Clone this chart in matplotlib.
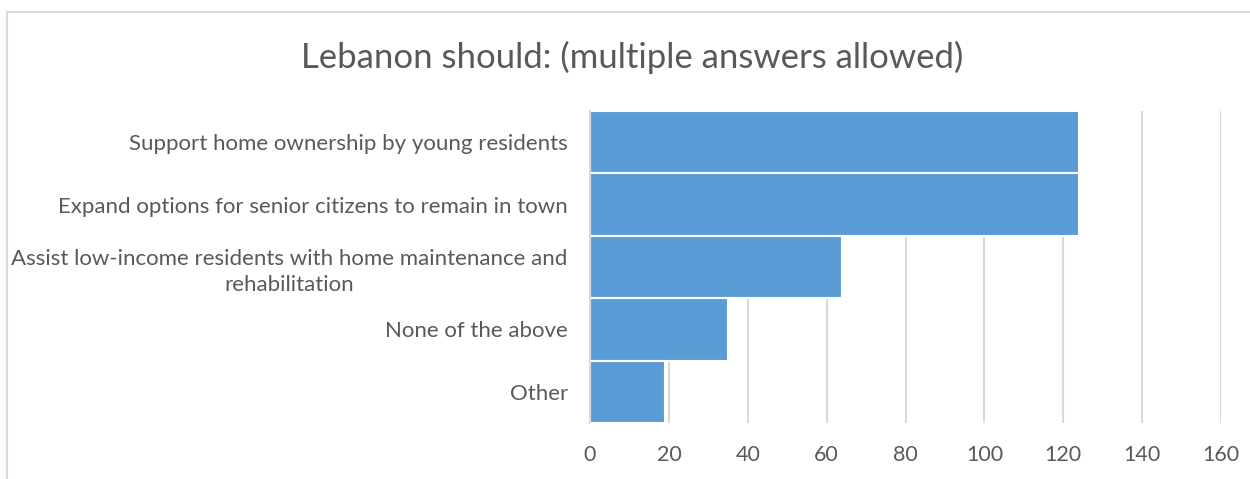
import matplotlib.pyplot as plt
from matplotlib.patches import Rectangle

categories = [
    'Support home ownership by young residents',
    'Expand options for senior citizens to remain in town',
    'Assist low-income residents with home maintenance and\nrehabilitation',
    'None of the above',
    'Other',
]
values = [124, 124, 64, 35, 19]
xticks = [0, 20, 40, 60, 80, 100, 120, 140, 160]

plt.rcParams['font.family'] = ['Lato', 'DejaVu Sans']
text_color = '#595959'
grid_color = '#D9D9D9'

fig = plt.figure(figsize=(12.5, 4.79), dpi=100)
fig.patches.append(Rectangle((7 / 1250, -0.1), 1.2, 1 - 12 / 479 + 0.1,
                             transform=fig.transFigure, fill=False,
                             edgecolor=grid_color, linewidth=1.5))

ax = fig.add_axes([590 / 1250, 1 - 423 / 479, (1221 - 590) / 1250, (423 - 111) / 479])

pos = list(range(len(categories)))
ax.barh(pos, values, height=1.0, color='#5B9BD5', edgecolor='white',
        linewidth=1.5, zorder=3)
ax.set_ylim(len(categories) - 0.5, -0.5)
ax.set_xlim(0, 160)
ax.set_xticks(xticks)
ax.set_yticks(pos)
ax.set_yticklabels(categories, multialignment='center', linespacing=1.4)

ax.grid(axis='x', color=grid_color, linewidth=1.5, zorder=0)
for s in ['top', 'right', 'bottom']:
    ax.spines[s].set_visible(False)
ax.spines['left'].set_color(grid_color)
ax.spines['left'].set_linewidth(1.5)
ax.spines['left'].set_zorder(4)
ax.tick_params(axis='x', length=0, colors=text_color, labelsize=15.5, pad=16)
ax.tick_params(axis='y', length=0, colors=text_color, labelsize=16, pad=16)

fig.text(632 / 1250, 1 - 57 / 479, 'Lebanon should: (multiple answers allowed)',
         ha='center', va='center', fontsize=25, color=text_color)

fig.savefig('out.png', dpi=100)
